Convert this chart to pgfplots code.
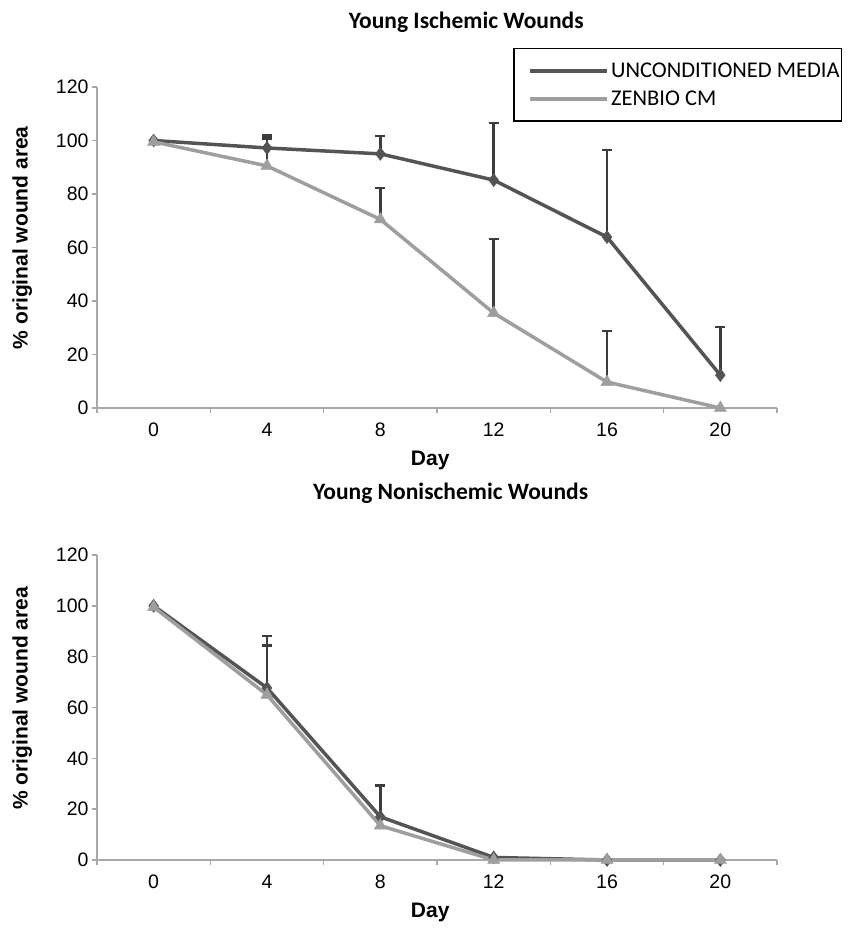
\documentclass[border=0pt]{standalone}
\usepackage{fontspec}
\setmainfont{Liberation Sans}
\newfontfamily\calibri{Carlito}
\usepackage{pgfplots}
\pgfplotsset{compat=1.18}

\definecolor{dk}{HTML}{545454}
\definecolor{lt}{HTML}{9E9E9E}
\definecolor{ax}{HTML}{A8A8A8}
\definecolor{eb}{HTML}{3C3C3C}

\pgfplotsset{
  wound/.style={
    scale only axis, width=680pt,
    xmin=-0.5, xmax=5.5, ymin=0, ymax=120,
    axis x line=bottom, axis y line=left,
    axis line style={ax, line width=2pt, -},
    xtick={-0.5,0.5,...,5.5}, xticklabels={},
    extra x ticks={0,1,2,3,4,5},
    extra x tick labels={0,4,8,12,16,20},
    extra x tick style={major tick length=0pt, xticklabel style={anchor=center, yshift=-22pt}},
    ytick={0,20,...,120},
    tick align=outside,
    tick style={ax, line width=1.5pt},
    major tick length=5pt,
    ticklabel style={font=\fontsize{19.5}{22}\selectfont},
    /pgf/number format/assume math mode=true,
    xlabel={Day}, ylabel={\% original wound area},
    label style={font=\fontsize{21}{24}\selectfont\bfseries},
    ylabel style={at={(axis description cs:-0.11,0.53)}, anchor=center, rotate=0},
    clip=false,
    title style={font=\calibri\fontsize{23.5}{26}\selectfont\bfseries, anchor=center},
    legend image code/.code={\path[draw=none, fill=none] (0pt,0pt) -- (16pt,0pt);\draw[#1, mark=none, line width=4.5pt] (16pt,0pt) -- (93pt,0pt);},
  },
  ebu/.style={draw=none, mark=none, forget plot,
    error bars/.cd, y dir=plus, y explicit,
    error bar style={eb, line width=2.5pt},
    error mark options={eb, rotate=90, mark size=5pt, line width=2.5pt}},
  lu/.style={dk, line width=3.5pt, mark=diamond*, mark size=6.5pt, mark options={fill=dk, draw=dk, line width=0.5pt}},
  lz/.style={lt, line width=3.5pt, mark=triangle*, mark size=7pt, mark options={fill=lt, draw=lt, line width=0.5pt}},
}

\begin{document}
\begin{tikzpicture}
\path[use as bounding box] (0,0) rectangle (861pt,936pt);

% ---------- top chart ----------
\begin{axis}[wound, at={(97pt,528pt)}, anchor=south west, height=321pt,
  title={Young Ischemic Wounds},
  title style={at={(axis description cs:0.543,1)}, yshift=59pt},
  xlabel style={at={(axis description cs:0.49,0)}, anchor=center, yshift=-52pt},
  legend style={at={(axis description cs:0.612,1.1215)}, anchor=north west,
    draw=black, line width=1.5pt, font=\calibri\fontsize{22.5}{24}\selectfont,
    inner xsep=0pt, inner ysep=12pt, row sep=8pt,
    nodes={inner xsep=2pt}},
  legend cell align=left]
\addplot[ebu] table[x=x, y=y, y error=e] {
x y e
1 97.2 4.6
2 95.0 6.7
3 85.2 21.3
4 63.9 32.5
5 12.3 18.0
};
\addplot[ebu] table[x=x, y=y, y error=e] {
x y e
1 90.5 10.3
2 70.5 11.7
3 35.5 27.7
4 9.7 19.1
};
\addplot[lu] table[x=x, y=y] {
x y
0 100
1 97.2
2 95.0
3 85.2
4 63.9
5 12.3
};
\addlegendentry{UNCONDITIONED MEDIA}
\addplot[lz] table[x=x, y=y] {
x y
0 99.5
1 90.5
2 70.5
3 35.5
4 9.7
5 0
};
\addlegendentry{ZENBIO CM}
\end{axis}

% ---------- bottom chart ----------
\begin{axis}[wound, at={(97pt,76pt)}, anchor=south west, height=305pt,
  title={Young Nonischemic Wounds},
  title style={at={(axis description cs:0.52,1)}, yshift=56pt},
  xlabel style={at={(axis description cs:0.49,0)}, anchor=center, yshift=-52pt}]
\addplot[ebu] table[x=x, y=y, y error=e] {
x y e
1 67.7 20.5
2 17.0 12.5
};
\addplot[ebu] table[x=x, y=y, y error=e] {
x y e
1 65.0 19.3
2 13.5 15.8
};
\addplot[lu] table[x=x, y=y] {
x y
0 100
1 67.7
2 17.0
3 1.0
4 0
5 0
};
\addplot[lz] table[x=x, y=y] {
x y
0 99.5
1 65.0
2 13.5
3 0
4 0
5 0
};
\end{axis}
\end{tikzpicture}
\end{document}
